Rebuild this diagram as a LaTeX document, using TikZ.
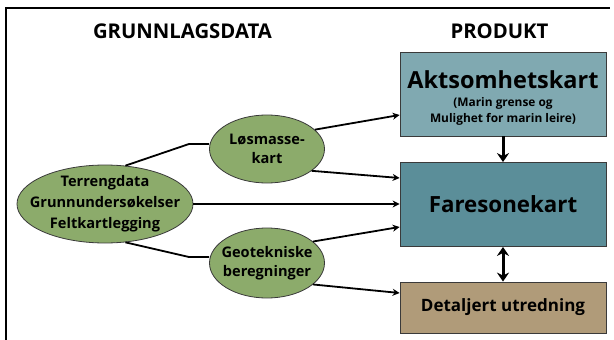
\documentclass[tikz,border=0pt]{standalone}
\usepackage{fontspec}
\setmainfont{Open Sans}
\usetikzlibrary{arrows.meta,shapes.geometric}
\definecolor{leaf}{HTML}{8CAB6B}
\definecolor{tealA}{HTML}{80A9B1}
\definecolor{tealB}{HTML}{5B8E99}
\definecolor{tan}{HTML}{B09B79}
\definecolor{rim}{HTML}{3A3A3A}
\newcommand{\aktfont}{\bfseries\fontsize{23.5}{26}\selectfont}
\newcommand{\farefont}{\bfseries\fontsize{22.3}{26}\selectfont}
\newcommand{\notefont}{\bfseries\fontsize{11.9}{16}\selectfont}
\tikzset{
  title/.style={font=\bfseries\fontsize{20.3}{22}\selectfont, inner sep=0pt},
  blob/.style={ellipse, draw=rim, line width=0.8pt, fill=leaf, inner sep=0pt},
  blobtext/.style={inner sep=0pt, align=center, font=\bfseries\fontsize{14.4}{20.5}\selectfont},
  prodbox/.style={rectangle, draw=rim, line width=0.8pt, inner sep=0pt, align=center},
  link/.style={line width=1.8pt, black},
  feed/.style={line width=1.8pt, black, -{Stealth[length=7pt,width=7pt]}},
  down/.style={line width=3pt, black, -{Stealth[length=9pt,width=12pt]}},
  both/.style={line width=3pt, black, {Stealth[length=9pt,width=12pt]}-{Stealth[length=9pt,width=12pt]}}
}
\begin{document}
\begin{tikzpicture}[x=1pt,y=-1pt]
\useasboundingbox (0,0) rectangle (614,340);
% frame
\draw[line width=2pt] (6,341) -- (6,8) -- (610,8);
% headings
\node[title] (hleft) at (182.5,31.5) {GRUNNLAGSDATA};
\node[title] (hright) at (499.5,31.5) {PRODUKT};
% product boxes
\node[prodbox, fill=tealA, minimum width=206pt, minimum height=84pt] (akt) at (503,94) {};
\node[inner sep=0pt, font=\aktfont] (akttitle) at (503,80) {Aktsomhetskart};
\node[inner sep=0pt, font=\notefont, align=center] (aktnote) at (503,111)
  {(Marin grense og\\Mulighet for marin leire)};
\node[prodbox, fill=tealB, minimum width=206pt, minimum height=84pt,
  font=\farefont] (fare) at (503,204.5) {Faresonekart};
\node[prodbox, fill=tan, minimum width=206pt, minimum height=51pt,
  font=\bfseries\fontsize{17}{19}\selectfont] (det) at (503,307.5) {Detaljert utredning};
% data ellipses
\node[blob, minimum width=176pt, minimum height=78pt] (terr) at (105,204) {};
\node[blobtext, font=\bfseries\fontsize{14.6}{21}\selectfont] (terrtext) at (terr)
  {Terrengdata\\Grunnundersøkelser\\Feltkartlegging};
\node[blob, minimum width=115pt, minimum height=68pt] (los) at (267,149) {};
\node[blobtext, font=\bfseries\fontsize{14.6}{19}\selectfont] (lostext) at (los)
  {Løsmasse-\\kart};
\node[blob, minimum width=115pt, minimum height=70pt] (geo) at (267,263) {};
\node[blobtext, font=\bfseries\fontsize{14.6}{18.5}\selectfont] (geotext) at (geo)
  {Geotekniske\\beregninger};
% connectors
\coordinate (k1) at (189,144);
\coordinate (k2) at (189,257);
\draw[link] (terr.62) -- (k1) -- (los.west |- k1);
\draw[link] (terr.-62) -- (k2) -- (geo.west |- k2);
\draw[feed] (terr.east) -- (fare.west |- terr.east);
\draw[feed] (los.22) -- (akt.west |- 0,115);
\draw[feed] (los.-26) -- (fare.west |- 0,178);
\draw[feed] (geo.25) -- (fare.west |- 0,227);
\draw[feed] (geo.-25) -- (det.west |- 0,293);
\draw[down] (akt.south) -- (fare.north);
\draw[both] (fare.south) -- (det.north);
\end{tikzpicture}
\end{document}
